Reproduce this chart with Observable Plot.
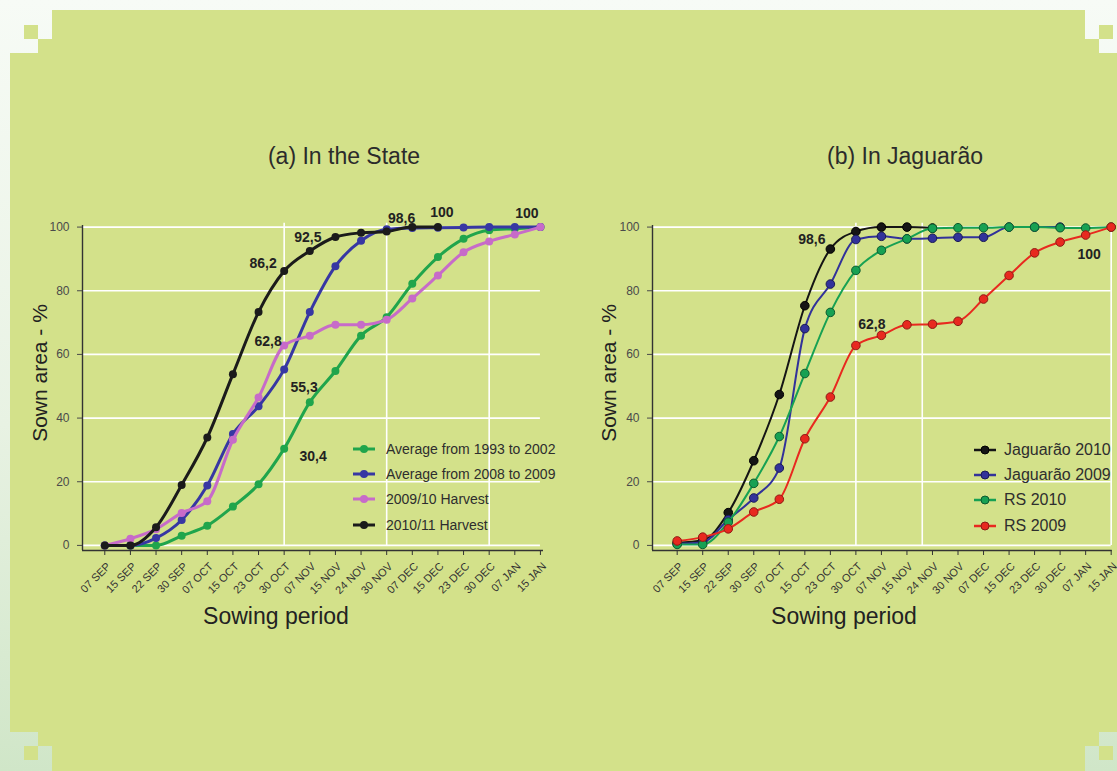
<!DOCTYPE html>
<html>
<head>
<meta charset="utf-8">
<script src="https://cdn.jsdelivr.net/npm/d3@7"></script>
<script src="https://cdn.jsdelivr.net/npm/@observablehq/plot@0.6"></script>
<style>
  html, body { margin: 0; padding: 0; }
  body {
    width: 1117px; height: 771px; overflow: hidden; position: relative;
    background: linear-gradient(to bottom, #f7fbf6 0%, #e8f2e3 55%, #d0e6c8 100%);
    font-family: "Liberation Sans", Arial, Helvetica, sans-serif;
  }
  .abs { position: absolute; }
  .title { font-size: 23px; line-height: 1; color: #2b2b2b; white-space: nowrap; transform: translateX(-50%); }
  .xlabel { font-size: 23px; line-height: 1; color: #222; white-space: nowrap; transform: translateX(-50%); }
  .ylabel { font-size: 21px; line-height: 1; color: #222; white-space: nowrap; transform: translate(-50%, -50%) rotate(-90deg); }
  .legend { line-height: 1; color: #2e2e2e; }
  .legend .item { position: absolute; display: flex; align-items: center; white-space: nowrap; }
  .legend svg { display: block; }
</style>
</head>
<body>
<svg id="backdrop" class="abs" style="left:0;top:0" width="1117" height="771"></svg>
<div id="stage"></div>
<script>
// Sowing dates shared by both panels
const sowingDates = ["07 SEP", "15 SEP", "22 SEP", "30 SEP", "07 OCT", "15 OCT", "23 OCT", "30 OCT", "07 NOV",
  "15 NOV", "24 NOV", "30 NOV", "07 DEC", "15 DEC", "23 DEC", "30 DEC", "07 JAN", "15 JAN"];
const yTicks = [0, 20, 40, 60, 80, 100];

// (a) In the State — cumulative sown area, %
const stateAvg1993to2002 = [0, 0, 0, 3.0, 6.2, 12.2, 19.2, 30.4, 45.0, 54.8, 65.9, 71.7, 82.2, 90.6, 96.3, 99.0, 99.5, 100];
const stateAvg2008to2009 = [0, 0, 2.3, 8.0, 18.8, 35.0, 43.7, 55.3, 73.3, 87.7, 95.7, 99.3, 99.7, 99.8, 99.9, 100, 100, 100];
const stateHarvest2009 = [0, 2.1, 5.1, 10.2, 13.9, 33.2, 46.5, 62.8, 65.9, 69.3, 69.3, 70.9, 77.6, 84.8, 92.1, 95.5, 97.7, 100];
const stateHarvest2010 = [0, 0, 5.7, 19.0, 33.9, 53.8, 73.3, 86.2, 92.5, 96.9, 98.2, 98.6, 100, 100];

// (b) In Jaguarão — cumulative sown area, %
const jaguarao2010 = [0.8, 1.6, 10.3, 26.6, 47.4, 75.3, 93.1, 98.6, 100, 100, 99.7];
const jaguarao2009 = [0.5, 1.0, 8.1, 14.9, 24.3, 68.1, 82.1, 96.1, 97.1, 96.3, 96.5, 96.8, 96.8, 100, 100, 100];
const rs2010 = [0.3, 0.3, 7.3, 19.5, 34.2, 54.0, 73.2, 86.4, 92.7, 96.3, 99.6, 99.8, 99.8, 100, 100, 99.8, 99.7, 100];
const rs2009 = [1.4, 2.6, 5.2, 10.5, 14.5, 33.5, 46.6, 62.8, 66.0, 69.3, 69.5, 70.4, 77.4, 84.8, 91.9, 95.3, 97.5, 100];

const stateSeries = [
  {name: "Average from 1993 to 2002", values: stateAvg1993to2002},
  {name: "Average from 2008 to 2009", values: stateAvg2008to2009},
  {name: "2009/10 Harvest", values: stateHarvest2009},
  {name: "2010/11 Harvest", values: stateHarvest2010}
];
const jaguaraoSeries = [
  {name: "Jaguarão 2010", values: jaguarao2010},
  {name: "Jaguarão 2009", values: jaguarao2009},
  {name: "RS 2010", values: rs2010},
  {name: "RS 2009", values: rs2009}
];

// Points whose value is written next to them: [series, date]
const stateNotes = [
  ["2010/11 Harvest", "30 OCT"], ["2010/11 Harvest", "07 NOV"], ["2010/11 Harvest", "30 NOV"],
  ["2010/11 Harvest", "15 DEC"], ["Average from 2008 to 2009", "07 JAN"],
  ["2009/10 Harvest", "30 OCT"], ["Average from 2008 to 2009", "30 OCT"], ["Average from 1993 to 2002", "30 OCT"]
];
const jaguaraoNotes = [["Jaguarão 2010", "30 OCT"], ["RS 2009", "30 OCT"], ["RS 2009", "15 JAN"]];

// ---- styling ----
const FONT = "'Liberation Sans', Arial, Helvetica, sans-serif";
const stateColors = {
  "Average from 1993 to 2002": "#20a54c",
  "Average from 2008 to 2009": "#3737a3",
  "2009/10 Harvest": "#c76bc9",
  "2010/11 Harvest": "#1b1b1b"
};
const jaguaraoColors = {
  "Jaguarão 2010": "#151515",
  "Jaguarão 2009": "#32329a",
  "RS 2010": "#17a153",
  "RS 2009": "#e8291f"
};
const jaguaraoEdges = {
  "Jaguarão 2010": "#000",
  "Jaguarão 2009": "#1a1a55",
  "RS 2010": "#0c5a2e",
  "RS 2009": "#8d1a14"
};
const stateNoteOffsets = [[-21, -8], [-2, -13], [15, -13], [4, -15], [12, -14], [-16, -4], [20, 18], [29, 8]];
const jaguaraoNoteOffsets = [[-44, 8], [16, -21], [-22, 27]];

const fmt = v => String(v).replace(".", ",");

function panel({series, colors, edges, notes, noteOffsets, gridAt, xMin, xMax, width, marginRight, lineWidth, dotR}) {
  const yMin = -1.6, yTop = 100.5;
  const dayIndex = d3.range(sowingDates.length);
  const marks = [
    Plot.ruleY(yTicks, {x1: xMin, x2: 17, stroke: "#ffffff", strokeWidth: 1.6}),
    Plot.ruleX(gridAt, {y1: 0, y2: 101.2, stroke: "#ffffff", strokeWidth: 1.6}),
    Plot.ruleX([xMin], {y1: yMin, y2: yTop, stroke: "#333", strokeWidth: 1.4}),
    Plot.ruleY([yMin], {x1: xMin, x2: xMax, stroke: "#333", strokeWidth: 1.4}),
    Plot.axisY({ticks: yTicks, tickSize: 5, tickPadding: 8, fontSize: 12, color: "#4a4a4a", label: null}),
    // tick marks below the baseline
    Plot.axisX({ticks: dayIndex, tickFormat: () => "", tickSize: 5, color: "#333", label: null}),
    // slanted date labels
    Plot.axisX({ticks: dayIndex, tickFormat: i => sowingDates[i], tickRotate: -45,
      tickSize: 0, tickPadding: 14, dx: 4, fontSize: 11, color: "#333", label: null})
  ];
  for (const s of series) {
    const pts = s.values.map((v, i) => ({i, v}));
    marks.push(Plot.line(pts, {x: "i", y: "v", stroke: colors[s.name], strokeWidth: lineWidth, curve: "monotone-x"}));
    marks.push(Plot.dot(pts, {x: "i", y: "v", r: dotR, fill: colors[s.name],
      stroke: edges ? edges[s.name] : "none", strokeWidth: edges ? 1 : 0}));
  }
  notes.forEach(([name, date], k) => {
    const s = series.find(d => d.name === name);
    const i = sowingDates.indexOf(date);
    marks.push(Plot.text([{i, v: s.values[i]}], {x: "i", y: "v", text: d => fmt(d.v),
      dx: noteOffsets[k][0], dy: noteOffsets[k][1], fontSize: 14, fontWeight: "bold", fill: "#222"}));
  });
  return Plot.plot({
    width, height: 440, marginLeft: 82, marginRight, marginTop: 25, marginBottom: 90,
    x: {domain: [xMin, xMax]},
    y: {domain: [yMin, yTop]},
    style: {background: "transparent", fontFamily: FONT, overflow: "visible"},
    marks
  });
}

// ---- backdrop: stepped-corner green panel ----
const backdrop = d3.select("#backdrop");
backdrop.append("polygon")
  .attr("fill", "#d3e18a")
  .attr("points", [
    [52, 10], [1085, 10], [1085, 39], [1099, 39], [1099, 53], [1117, 53], [1117, 732], [1099, 732],
    [1099, 746], [1085, 746], [1085, 771], [52, 771], [52, 746], [38, 746], [38, 732], [10, 732],
    [10, 53], [38, 53], [38, 39], [52, 39]
  ].map(p => p.join(",")).join(" "));
for (const [x, y] of [[24, 25], [1099, 25], [24, 746], [1099, 746]]) {
  backdrop.append("rect").attr("x", x).attr("y", y).attr("width", 14).attr("height", 14).attr("fill", "#d3e18a");
}

const stage = document.getElementById("stage");
function place(el, left, top) {
  el.style.position = "absolute"; el.style.left = left + "px"; el.style.top = top + "px";
  stage.appendChild(el);
  return el;
}
function textDiv(cls, text, left, top) {
  const d = document.createElement("div"); d.className = cls; d.textContent = text;
  return place(d, left, top);
}

// ---- panels ----
place(panel({
  series: stateSeries, colors: stateColors, edges: null, notes: stateNotes, noteOffsets: stateNoteOffsets,
  gridAt: [7, 11, 15], xMin: -0.87, xMax: 17.12, width: 560, marginRight: 17, lineWidth: 3, dotR: 4
}), 0, 200);

place(panel({
  series: jaguaraoSeries, colors: jaguaraoColors, edges: jaguaraoEdges, notes: jaguaraoNotes, noteOffsets: jaguaraoNoteOffsets,
  gridAt: [7, 9.6, 17], xMin: -0.967, xMax: 17.04, width: 547, marginRight: 5.3, lineWidth: 2, dotR: 4.3
}), 570, 200);

// ---- titles and axis labels ----
textDiv("title", "(a) In the State", 344, 145);
textDiv("title", "(b) In Jaguarão", 905, 145);
textDiv("xlabel", "Sowing period", 276, 605);
textDiv("xlabel", "Sowing period", 844, 605);
textDiv("ylabel", "Sown area - %", 39, 373);
textDiv("ylabel", "Sown area - %", 608, 373);

// ---- legends ----
function legend(series, colors, edges, left, top, lineWidth, fontSize, gap) {
  const box = document.createElement("div"); box.className = "legend";
  box.style.fontSize = fontSize + "px";
  series.forEach((s, k) => {
    const item = document.createElement("div"); item.className = "item";
    item.style.left = "0px"; item.style.top = (k * 25.2) + "px"; item.style.height = "14px";
    const svg = d3.create("svg").attr("width", 24).attr("height", 12).style("margin-right", gap + "px");
    svg.append("line").attr("x1", 1).attr("x2", 23).attr("y1", 6).attr("y2", 6)
      .attr("stroke", colors[s.name]).attr("stroke-width", lineWidth);
    svg.append("circle").attr("cx", 12).attr("cy", 6).attr("r", 4).attr("fill", colors[s.name])
      .attr("stroke", edges ? edges[s.name] : "none");
    item.appendChild(svg.node());
    const t = document.createElement("span"); t.textContent = s.name;
    item.appendChild(t);
    box.appendChild(item);
  });
  return place(box, left, top);
}
legend(stateSeries, stateColors, null, 352, 442, 3, 14, 10);
legend(jaguaraoSeries, jaguaraoColors, jaguaraoEdges, 973, 443, 2.5, 16, 7);
</script>
</body>
</html>
